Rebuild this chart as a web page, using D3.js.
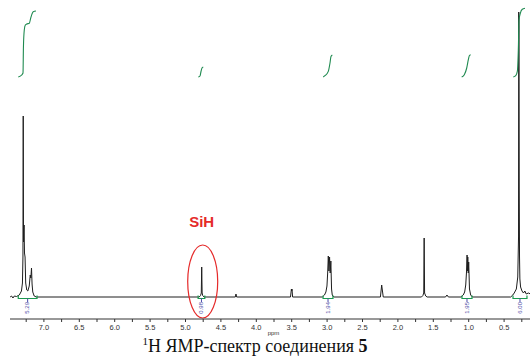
<!DOCTYPE html>
<html>
<head>
<meta charset="utf-8">
<script src="https://cdn.jsdelivr.net/npm/d3@7"></script>
<style>
  body { margin: 0; background: #fff; }
</style>
</head>
<body>
<div id="canvas"></div>
<script>
"use strict"

/* Spectrum pieces: [ppm, intensity] */
let aromatic = [
    [7.47, 0], [7.45, 1], [7.43, -1], [7.41, 1], [7.38, 0.5], [7.34, 2],
    [7.31, 6], [7.296, 14], [7.289, 40], [7.285, 181], [7.281, 55],
    [7.273, 72], [7.267, 44], [7.259, 40], [7.25, 14], [7.235, 7],
    [7.22, 6], [7.20, 11], [7.186, 22], [7.177, 19], [7.168, 29],
    [7.16, 13], [7.15, 5], [7.13, 1], [7.10, 0]
];
let silylHydride = [
    [4.80, 0], [4.78, 1.5], [4.770, 4], [4.764, 30], [4.758, 4], [4.75, 1.5], [4.73, 0]
];
let smallPeaks = [
    [4.29, 0], [4.28, 3], [4.27, 0],
    [3.51, 0], [3.497, 8], [3.493, 6], [3.489, 8], [3.48, 0]
];
let methylene = [
    [3.06, 0], [3.03, 2], [3.01, 5], [2.995, 11], [2.985, 24], [2.976, 41],
    [2.967, 26], [2.958, 40], [2.949, 24], [2.940, 36], [2.93, 8], [2.92, 2], [2.90, 0]
];
let otherPeaks = [
    [2.24, 0], [2.222, 12], [2.20, 0],
    [1.66, 0], [1.64, 1.5], [1.628, 4], [1.622, 59], [1.616, 4], [1.60, 1], [1.58, 0],
    [1.32, 0], [1.30, 2], [1.28, 0]
];
let methyl = [
    [1.10, 0], [1.07, 2], [1.05, 5], [1.035, 12], [1.024, 25], [1.016, 42],
    [1.011, 26], [1.006, 40], [0.999, 24], [0.993, 35], [0.982, 8], [0.965, 2], [0.94, 0]
];
let siMethyl = [
    [0.40, 0], [0.37, 2], [0.35, 4], [0.32, 8], [0.30, 20], [0.289, 60],
    [0.286, 285], [0.283, 270], [0.279, 110], [0.275, 40], [0.27, 18],
    [0.26, 10], [0.24, 6], [0.22, 4], [0.20, 6], [0.18, 3], [0.15, 4], [0.12, 3]
];

/* Integral curves: [ppm, cumulative height] */
let intAromatic = [
    [7.355, 0], [7.306, 2], [7.288, 4], [7.282, 30], [7.27, 47], [7.255, 52],
    [7.236, 53], [7.199, 53.7], [7.179, 59], [7.157, 63.7], [7.143, 65.3], [7.105, 66]
];
let intSiH = [[4.812, 0], [4.788, 1], [4.774, 5.5], [4.760, 9], [4.742, 10]];
let intCH2 = [[3.047, 0], [3.023, 1.3], [2.976, 5.6], [2.952, 14], [2.938, 20.6], [2.919, 22]];
let intCH3 = [[1.092, 0], [1.055, 2.3], [1.021, 9], [0.998, 17.3], [0.984, 21.3], [0.965, 22.3]];
let intSiMe = [
    [0.363, 0], [0.329, 1.3], [0.306, 5.6], [0.292, 27], [0.282, 57],
    [0.264, 63.7], [0.236, 67.7], [0.198, 68.7]
];

let integralRanges = [[7.355, 7.09], [4.815, 4.72], [3.05, 2.91], [1.088, 0.946], [0.367, 0.17]];
let integralLabels = ["5.29", "0.98", "1.94", "1.95", "6.00"];

let tickLabels = [7.0, 6.5, 6.0, 5.5, 5.0, 4.5, 4.0, 3.5, 3.0, 2.5, 2.0, 1.5, 1.0, 0.5];

/* Drawing configuration */
let svgWidth = 530;
let svgHeight = 356;
let baselineY = 297;
let axisY = 319;

let svg = d3.select("#canvas")
    .append("svg")
    .attr("width", svgWidth)
    .attr("height", svgHeight)
    .style("display", "block");

let x = d3.scaleLinear()
    .domain([7.5, 0.1])
    .range([8, 8 + 7.4 * 70.8]);

let y = d3.scaleLinear()
    .domain([0, 285])
    .range([baselineY, 12]);

let yInt = d3.scaleLinear()
    .domain([0, 70])
    .range([77, 7]);

/* Spectrum line */
let spectrum = [].concat(aromatic, silylHydride, smallPeaks, methylene, otherPeaks, methyl, siMethyl);

let specLine = d3.line()
    .x(d => x(d[0]))
    .y(d => y(d[1]));

svg.append("path")
    .datum(spectrum)
    .attr("fill", "none")
    .attr("stroke", "#1e1e1e")
    .attr("stroke-width", 1)
    .attr("stroke-linejoin", "round")
    .attr("d", specLine);

/* Integral curves */
let intLine = d3.line()
    .x(d => x(d[0]))
    .y(d => yInt(d[1]))
    .curve(d3.curveMonotoneX);

svg.selectAll(".integral")
    .data([intAromatic, intSiH, intCH2, intCH3, intSiMe])
    .join("path")
    .attr("class", "integral")
    .attr("fill", "none")
    .attr("stroke", "#1f8a50")
    .attr("stroke-width", 1.1)
    .attr("d", intLine);

/* Integral bars under baseline */
let bars = svg.selectAll(".ibar")
    .data(integralRanges)
    .join("g")
    .attr("class", "ibar");

bars.append("path")
    .attr("fill", "none")
    .attr("stroke", "#1a9a4e")
    .attr("stroke-width", 1.2)
    .attr("d", d => "M" + x(d[0]) + "," + (baselineY - 1.5) + "V" + (baselineY + 1.5) +
        "H" + x(d[1]) + "V" + (baselineY - 1.5));

bars.append("line")
    .attr("stroke", "#4a4aa8")
    .attr("x1", d => (x(d[0]) + x(d[1])) / 2)
    .attr("x2", d => (x(d[0]) + x(d[1])) / 2)
    .attr("y1", baselineY + 1.5)
    .attr("y2", baselineY + 5);

bars.append("text")
    .attr("transform", d => "translate(" + ((x(d[0]) + x(d[1])) / 2) + "," + (baselineY + 5) + ") rotate(-90)")
    .attr("text-anchor", "end")
    .attr("dominant-baseline", "middle")
    .attr("font-family", "Liberation Sans, Arial, sans-serif")
    .attr("font-size", 6)
    .attr("fill", "#5050a8")
    .text((d, i) => integralLabels[i]);

/* SiH annotation */
svg.append("ellipse")
    .attr("cx", x(4.764) + 1)
    .attr("cy", 281.5)
    .attr("rx", 15)
    .attr("ry", 36.5)
    .attr("fill", "none")
    .attr("stroke", "#e52a2a")
    .attr("stroke-width", 1.2);

svg.append("text")
    .attr("x", x(4.764))
    .attr("y", 227)
    .attr("text-anchor", "middle")
    .attr("font-family", "Liberation Sans, Arial, sans-serif")
    .attr("font-weight", "bold")
    .attr("font-size", 15)
    .attr("fill", "#e52a2a")
    .text("SiH");

/* ppm axis */
let axis = d3.axisBottom(x)
    .tickValues(d3.range(7.25, 0.1, -0.25).map(v => +v.toFixed(2)))
    .tickSize(3)
    .tickFormat(d => tickLabels.indexOf(d) >= 0 ? d.toFixed(1) : "");

let axisG = svg.append("g")
    .attr("transform", "translate(0," + axisY + ")")
    .call(axis);

axisG.select(".domain")
    .attr("d", "M10,0H" + svgWidth)
    .attr("stroke", "#333");

axisG.selectAll(".tick line").attr("stroke", "#333");

axisG.selectAll(".tick text")
    .attr("y", 6)
    .attr("font-family", "Liberation Sans, Arial, sans-serif")
    .attr("font-size", 7.5)
    .attr("fill", "#333");

svg.append("text")
    .attr("x", x(3.75))
    .attr("y", 335)
    .attr("text-anchor", "middle")
    .attr("font-family", "Liberation Sans, Arial, sans-serif")
    .attr("font-size", 6)
    .attr("fill", "#333")
    .text("ppm");

/* Caption */
let caption = svg.append("text")
    .attr("x", 255)
    .attr("y", 352)
    .attr("text-anchor", "middle")
    .attr("font-family", "Liberation Serif, Times New Roman, serif")
    .attr("font-size", 18)
    .attr("fill", "#111");

caption.append("tspan")
    .attr("font-size", 11)
    .attr("dy", -7)
    .text("1");
caption.append("tspan")
    .attr("dy", 7)
    .text("H ЯМР-спектр соединения ");
caption.append("tspan")
    .attr("font-weight", "bold")
    .text("5");
</script>
</body>
</html>
